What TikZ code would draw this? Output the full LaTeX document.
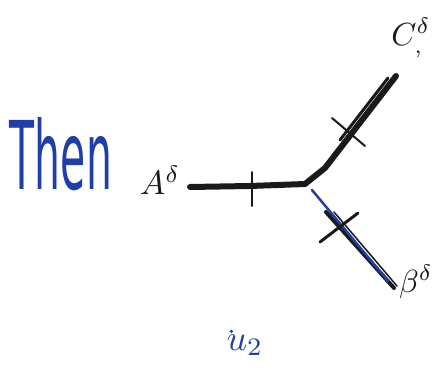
\documentclass[tikz,border=0pt]{standalone}
\usepackage{graphicx}
\usepackage{fontspec}
\setmainfont{DejaVu Sans}
\definecolor{pen}{HTML}{1E3FA8}
\definecolor{ink}{HTML}{1A1A1A}
\begin{document}
\begin{tikzpicture}[x=1pt,y=-1pt,
  bond/.style={draw=ink,line width=6pt,line cap=round,line join=round},
  tickmark/.style={draw=ink,line width=2pt,line cap=round},
  lbl/.style={inner sep=0pt,text=ink},
  bluetext/.style={inner sep=0pt,text=pen}]
\useasboundingbox (0,0) rectangle (445,370);
\coordinate (J) at (305,184);
\coordinate (Aend) at (190,187);
\coordinate (Cend) at (396,76);
\coordinate (Bend) at (394,288);
\coordinate (Bmid) at (326,212);
% bonds
\draw[bond] (Aend) -- (250,186) -- (J);
\draw[bond] (J) -- (325,168) -- (Cend);
\draw[bond,line width=3pt] (340,140) -- (388,78);
\draw[bond,line width=4pt] (Bmid) -- (Bend);
\draw[draw=ink,line width=1.5pt,line cap=round] (Bmid) ++(8,0) -- (397,286);
\draw[draw=pen,line width=2.5pt,line cap=round] (312,190) -- (388,281);
% ticks
\draw[tickmark] (252,172) -- (252,206);
\draw[tickmark] (332,118) -- (365,146);
\draw[tickmark,line width=3pt] (320,242) -- (358,213);
% labels
\node[lbl] (A) at (160,180) {\scalebox{3.4}{$A^{\delta}$}};
\node[lbl] (C) at (411,38) {\scalebox{3.2}{$C_{,}^{\delta}$}};
\node[lbl] (B) at (416,282) {\scalebox{3.2}{$\beta^{\delta}$}};
\node[bluetext] (then) at (61,154) {\resizebox{102pt}{72pt}{Then}};
\node[bluetext] (u) at (245,345) {\scalebox{3.6}{$u_{2}$}};
\fill[pen] (u.north west) ++(5,-3) circle (1.8pt);
\end{tikzpicture}
\end{document}
